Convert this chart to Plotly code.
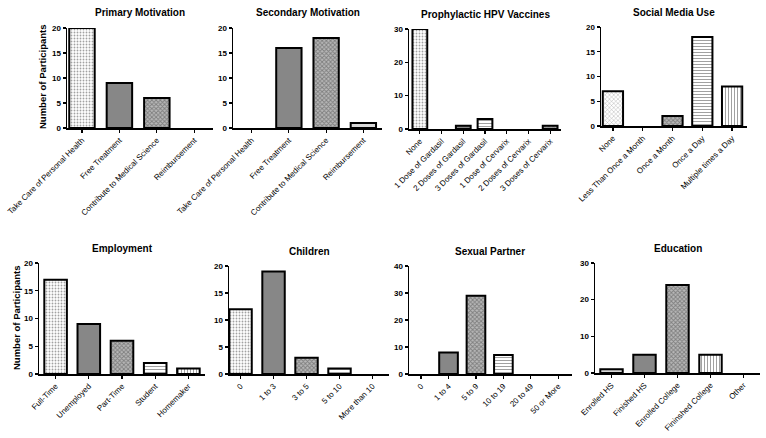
import plotly.graph_objects as go

W, H = 766, 438

# ---------------- data ----------------
primary_cats = ["Take Care of Personal Health", "Free Treatment", "Contribute to Medical Science", "Reimbursement"]
primary_vals = [20, 9, 6, 0]

secondary_cats = ["Take Care of Personal Health", "Free Treatment", "Contribute to Medical Science", "Reimbursement"]
secondary_vals = [0, 16, 18, 1]

hpv_cats = ["None", "1 Dose of Gardasil", "2 Doses of Gardasil", "3 Doses of Gardasil",
            "1 Dose of Cervarix", "2 Doses of Cervarix", "3 Doses of Cervarix"]
hpv_vals = [30, 0, 1, 3, 0, 0, 1]

social_cats = ["None", "Less Than Once a Month", "Once a Month", "Once a Day", "Multiple times a Day"]
social_vals = [7, 0, 2, 18, 8]

employment_cats = ["Full-Time", "Unemployed", "Part-Time", "Student", "Homemaker"]
employment_vals = [17, 9, 6, 2, 1]

children_cats = ["0", "1 to 3", "3 to 5", "5 to 10", "More than 10"]
children_vals = [12, 19, 3, 1, 0]

partner_cats = ["0", "1 to 4", "5 to 9", "10 to 19", "20 to 49", "50 or More"]
partner_vals = [0, 8, 29, 7, 0, 0]

education_cats = ["Enrolled HS", "Finished HS", "Enrolled College", "Fininshed College", "Other"]
education_vals = [1, 5, 24, 5, 0]

# ---------------- styles ----------------
P = {
    "dot":   dict(shape=".", bg="#ffffff", fg="#8a8a8a", size=3, sol=0.3),
    "grey":  dict(shape=".", bg="#9a9a9a", fg="#4a4a4a", size=2, sol=0.5),
    "check": dict(shape="x", bg="#b8b8b8", fg="#000000", size=3, sol=0.5),
    "hline": dict(shape="-", bg="#ffffff", fg="#222222", size=3, sol=0.35),
    "vline": dict(shape="|", bg="#ffffff", fg="#222222", size=3, sol=0.35),
    "light": dict(shape="", bg="#d8d8d8", fg="#d8d8d8", size=4, sol=0.3),
    "diag":  dict(shape="x", bg="#ffffff", fg="#b0b0b0", size=3, sol=0.25),
}

panels = [
    # title, cats, vals, ymax, dtick, xrange, xdom(px), ydom(px), patterns
    ("Primary Motivation", primary_cats, primary_vals, 20, 5, [-0.4, 3.5], [67, 213], [28, 128],
     ["dot", "grey", "check", "hline"]),
    ("Secondary Motivation", secondary_cats, secondary_vals, 20, 5, [-0.5, 3.5], [233, 382], [28, 128],
     ["dot", "grey", "check", "light"]),
    ("Prophylactic HPV Vaccines", hpv_cats, hpv_vals, 30, 10, [-0.5, 6.5], [409, 561], [29, 129],
     ["dot", "grey", "grey", "hline", "vline", "dot", "check"]),
    ("Social Media Use", social_cats, social_vals, 20, 5, [-0.4, 4.5], [601, 747], [27, 126],
     ["diag", "grey", "check", "hline", "vline"]),
    ("Employment", employment_cats, employment_vals, 20, 5, [-0.5, 4.5], [39, 205], [263, 374],
     ["dot", "grey", "check", "hline", "vline"]),
    ("Children", children_cats, children_vals, 20, 5, [-0.35, 4.5], [229, 389], [266, 374],
     ["dot", "grey", "check", "hline", "vline"]),
    ("Sexual Partner", partner_cats, partner_vals, 40, 10, [-0.44, 5.5], [409, 572], [266, 374],
     ["dot", "grey", "check", "hline", "vline", "dot"]),
    ("Education", education_cats, education_vals, 30, 10, [-0.5, 4.5], [595, 760], [263, 373],
     ["light", "grey", "check", "vline", "dot"]),
]

FONT = "Arial, Liberation Sans, sans-serif"
fig = go.Figure()
annotations = []

for i, (title, cats, vals, ymax, dtick, xr, xd, yd, pats) in enumerate(panels):
    n = i + 1
    xa = "x" if n == 1 else f"x{n}"
    ya = "y" if n == 1 else f"y{n}"
    styles = [P[p] for p in pats]
    fig.add_trace(go.Bar(
        x=list(range(len(cats))), y=vals, xaxis=xa, yaxis=ya, width=0.68,
        marker=dict(
            color=[s["bg"] for s in styles],
            line=dict(color="black", width=[2 if v > 0 else 0 for v in vals]),
            pattern=dict(
                shape=[s["shape"] for s in styles],
                bgcolor=[s["bg"] for s in styles],
                fgcolor=[s["fg"] for s in styles],
                size=[s["size"] for s in styles],
                solidity=[s["sol"] for s in styles],
                fillmode="overlay",
            ),
        ),
        showlegend=False, hoverinfo="skip",
    ))
    xdom = [xd[0] / W, xd[1] / W]
    ydom = [1 - yd[1] / H, 1 - yd[0] / H]
    fig.update_layout(**{
        ("xaxis" if n == 1 else f"xaxis{n}"): dict(
            domain=xdom, anchor=ya, range=xr, tickmode="array",
            tickvals=list(range(len(cats))), ticktext=cats, tickangle=-45,
            showline=True, linecolor="black", linewidth=1.5, ticks="outside",
            ticklen=3, tickwidth=1.2, tickcolor="black", showgrid=False, zeroline=False,
            tickfont=dict(family=FONT, size=8, color="black"), fixedrange=True,
            automargin=False,
        ),
        ("yaxis" if n == 1 else f"yaxis{n}"): dict(
            domain=ydom, anchor=xa, range=[0, ymax], tick0=0, dtick=dtick,
            showline=True, linecolor="black", linewidth=1.5, ticks="outside",
            ticklen=3, tickwidth=1.2, tickcolor="black", showgrid=False, zeroline=False,
            tickfont=dict(family=FONT, size=8, color="black", weight="bold"), fixedrange=True,
            automargin=False,
        ),
    })
    annotations.append(dict(
        text=f"<b>{title}</b>", x=(xdom[0] + xdom[1]) / 2, y=1 - (yd[0] - 15) / H,
        xref="paper", yref="paper", showarrow=False, xanchor="center", yanchor="middle",
        font=dict(family=FONT, size=10, color="black"),
    ))

annotations.append(dict(text="<b>Number of Participants</b>", x=43 / W, y=1 - 77 / H,
                        xref="paper", yref="paper", showarrow=False, textangle=-90,
                        xanchor="center", yanchor="middle",
                        font=dict(family=FONT, size=9.5, color="black")))
annotations.append(dict(text="<b>Number of Participants</b>", x=16 / W, y=1 - 318 / H,
                        xref="paper", yref="paper", showarrow=False, textangle=-90,
                        xanchor="center", yanchor="middle",
                        font=dict(family=FONT, size=9.5, color="black")))

fig.update_layout(
    width=W, height=H, margin=dict(l=0, r=0, t=0, b=0, autoexpand=False),
    paper_bgcolor="white", plot_bgcolor="white", bargap=0,
    annotations=annotations, font=dict(family=FONT),
)

fig.write_html("out.html", config={"displayModeBar": False, "staticPlot": True},
               post_script="document.body.style.margin='0';document.body.style.overflow='hidden';")
